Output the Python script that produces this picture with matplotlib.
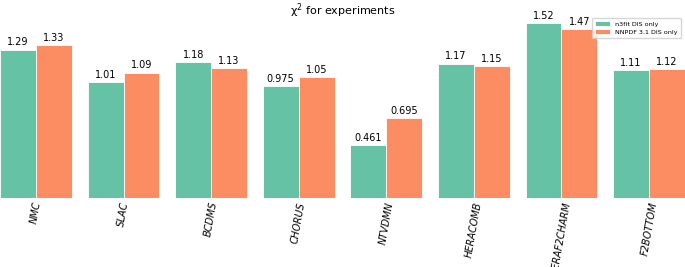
import matplotlib
matplotlib.use("Agg")
import matplotlib.pyplot as plt
import numpy as np

# chi2 per experiment, two fits
experiments = ["NMC", "SLAC", "BCDMS", "CHORUS", "NTVDMN",
               "HERACOMB", "HERAF2CHARM", "F2BOTTOM"]
chi2_n3fit = [1.29, 1.01, 1.18, 0.975, 0.461, 1.17, 1.52, 1.11]
chi2_nnpdf = [1.33, 1.09, 1.13, 1.05, 0.695, 1.15, 1.47, 1.12]
labels_n3fit = ["1.29", "1.01", "1.18", "0.975", "0.461", "1.17", "1.52", "1.11"]
labels_nnpdf = ["1.33", "1.09", "1.13", "1.05", "0.695", "1.15", "1.47", "1.12"]

fig = plt.figure(figsize=(6.85, 2.67), dpi=100)
ax = fig.add_axes([0, 0.258, 1, 0.689])

x = np.arange(len(experiments))
w = 0.41
b1 = ax.bar(x - w / 2, chi2_n3fit, w, color="#66c2a5", edgecolor="white",
            linewidth=0.6, label="n3fit DIS only")
b2 = ax.bar(x + w / 2, chi2_nnpdf, w, color="#fc8d62", edgecolor="white",
            linewidth=0.6, label="NNPDF 3.1 DIS only")

for bars, labs in ((b1, labels_n3fit), (b2, labels_nnpdf)):
    for rect, lab in zip(bars, labs):
        ax.text(rect.get_x() + rect.get_width() / 2, rect.get_height() + 0.02,
                lab, ha="center", va="bottom", fontsize=7)

ax.set_xlim(-w, len(experiments) - 1 + w)
ax.set_ylim(0, 1.6)
ax.set_xticks(x)
ax.set_xticklabels(experiments, rotation=80, fontsize=7, style="italic")
ax.tick_params(axis="x", length=0, pad=2)
ax.set_yticks([])
for s in ax.spines.values():
    s.set_visible(False)

ax.legend(loc="upper right", fontsize=4.6, bbox_to_anchor=(0.997, 0.99),
          borderaxespad=0.3, handlelength=2.4, borderpad=0.5, labelspacing=0.45)
fig.suptitle("χ$^2$ for experiments", fontsize=8, y=0.995)

fig.savefig("out.png", dpi=100)
